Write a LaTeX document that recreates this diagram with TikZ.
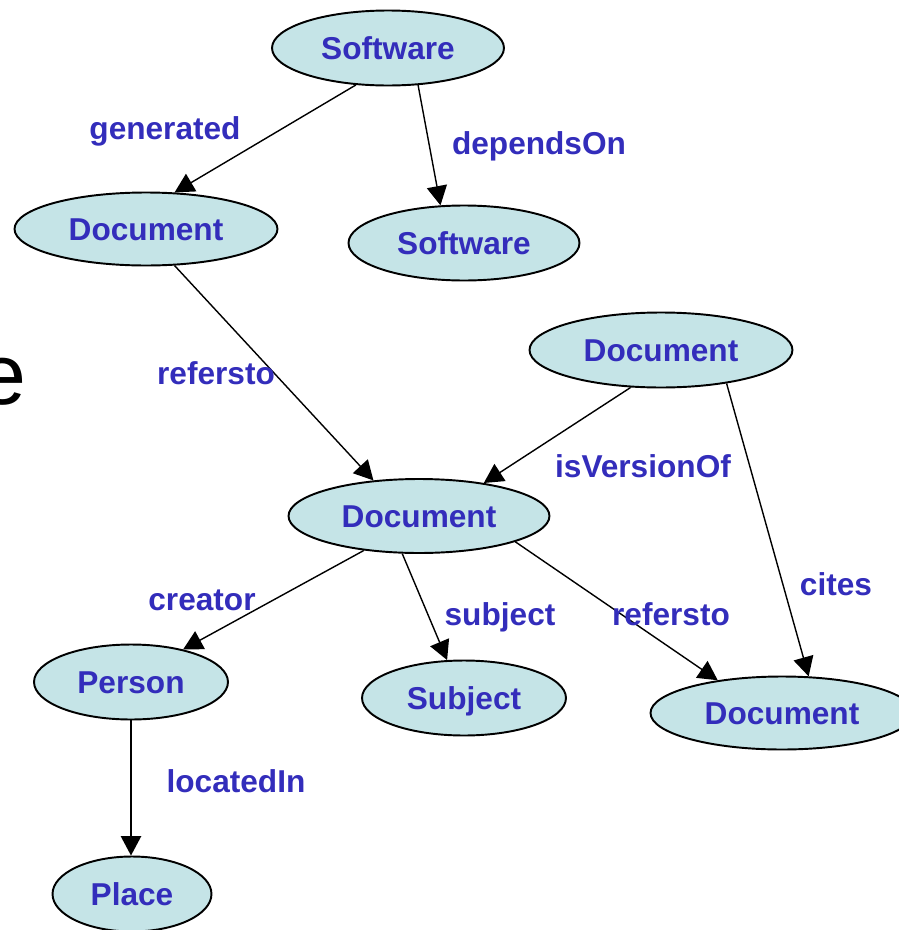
\documentclass[tikz,border=0pt]{standalone}
\usepackage{fontspec}
\setsansfont{Liberation Sans}
\usepackage{xcolor}
\definecolor{ent-fill}{RGB}{197,228,231}
\definecolor{ent-text}{RGB}{51,45,187}
\usetikzlibrary{shapes.geometric,arrows.meta}

\begin{document}
\begin{tikzpicture}
[
  x=0.02cm, y=-0.02cm,
  ent/.style={ellipse,draw=black,line width=1.1pt,fill=ent-fill,inner sep=0pt,
    minimum height=1.5cm,text height=12.9pt,text depth=0pt,text=ent-text,
    font=\sffamily\bfseries\fontsize{18}{20}\selectfont},
  lbl/.style={text=ent-text,inner sep=0pt,font=\sffamily\bfseries\fontsize{18}{20}\selectfont},
  rel/.style={draw=black,line width=0.8pt,-{Triangle[length=11pt,width=11.5pt]}},
]
\useasboundingbox (0,0) rectangle (899,930);

\node[inner sep=0pt,anchor=base east,font=\sffamily\fontsize{49}{52}\selectfont] (cut) at (27,404) {e};

\node[ent,minimum width=4.64cm] (sw) at (388,48) {Software};
\node[ent,minimum width=5.26cm,minimum height=1.46cm] (docgen) at (146,229) {Document};
\node[ent,minimum width=4.62cm] (swdep) at (464,243) {Software};
\node[ent,minimum width=5.26cm] (docver) at (661,350) {Document};
\node[ent,minimum width=5.22cm,minimum height=1.48cm] (docmain) at (419,516) {Document};
\node[ent,minimum width=3.88cm] (person) at (131,682) {Person};
\node[ent,minimum width=4.08cm] (subject) at (464,698) {Subject};
\node[ent,minimum width=5.26cm,minimum height=1.46cm] (docref) at (782,713) {Document};
\node[ent,minimum width=3.18cm] (place) at (132,894) {Place};

\draw[rel] (sw.229) -- (docgen.52);
\draw[rel] (sw.309) -- (swdep.122);
\draw[rel] (docgen.308) -- (docmain.142);
\draw[rel] (docver.231) -- (docmain.27);
\draw[rel] (docver.333) -- (docref.54);
\draw[rel] (docmain.212) -- (person.32);
\draw[rel] (docmain.246) -- (subject.114);
\draw[rel] (docmain.345) -- (docref.153);
\draw[rel] (person.south) -- (person.south |- place.north);

\node[lbl] (lgen) at (165,131) {generated};
\node[lbl] (ldep) at (539,146) {dependsOn};
\node[lbl] (lref1) at (216,373) {refersto};
\node[lbl] (lver) at (643,466) {isVersionOf};
\node[lbl] (lcite) at (836,584) {cites};
\node[lbl] (lcreat) at (202,600) {creator};
\node[lbl] (lsubj) at (500,617) {subject};
\node[lbl] (lref2) at (671,614) {refersto};
\node[lbl] (lloc) at (236,781) {locatedIn};
\end{tikzpicture}
\end{document}
